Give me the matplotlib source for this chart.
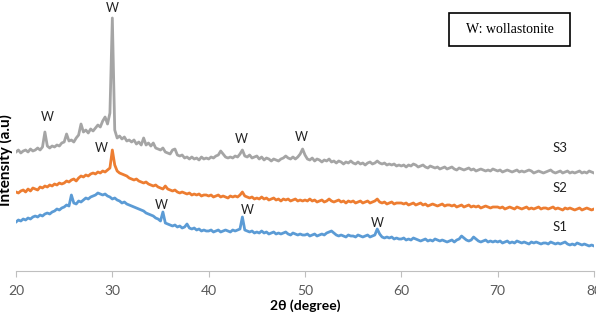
import numpy as np
import matplotlib
matplotlib.use('Agg')
import matplotlib.pyplot as plt
from matplotlib.patches import Rectangle

plt.rcParams['font.family'] = ['Lato', 'DejaVu Sans']

# scan positions, 2theta in degrees (0.25 step)
two_theta = np.arange(20, 80.001, 0.25)

# intensities (arbitrary units, already offset per sample)
s3 = [119, 121, 118, 120, 121, 119, 122, 120, 121, 123, 121, 124, 139, 125, 123, 125, 124, 126, 125, 128,
      129, 137, 130, 131, 129, 133, 136, 147, 139, 141, 138, 142, 140, 143, 146, 144, 150, 154, 147, 158,
      253, 141, 133, 135, 132, 134, 130, 131, 129, 131, 127, 129, 126, 133, 126, 128, 125, 128, 123, 122,
      121, 123, 119, 118, 117, 121, 122, 116, 115, 116, 113, 114, 112, 114, 112, 113, 111, 114, 112, 113,
      112, 114, 113, 115, 116, 120, 117, 114, 113, 114, 113, 115, 114, 117, 121, 115, 114, 116, 113, 114,
      115, 112, 114, 111, 113, 112, 110, 112, 111, 110, 112, 113, 115, 113, 112, 114, 112, 114, 117, 122,
      116, 112, 111, 113, 110, 112, 111, 109, 111, 110, 112, 109, 110, 108, 110, 109, 107, 109, 108, 110,
      108, 107, 109, 107, 108, 106, 108, 109, 107, 108, 110, 108, 107, 108, 106, 107, 106, 107, 105, 106,
      105, 106, 104, 106, 105, 107, 106, 104, 105, 106, 104, 103, 105, 104, 103, 104, 102, 103, 104, 102,
      103, 104, 102, 101, 103, 102, 101, 102, 103, 101, 102, 100, 101, 102, 101, 100, 101, 100, 102, 101,
      100, 101, 99, 100, 101, 100, 99, 100, 101, 99, 100, 99, 100, 101, 100, 98, 99, 100, 99, 98,
      99, 100, 101, 99, 98, 99, 100, 98, 99, 100, 98, 99, 98, 99, 100, 98, 99, 98, 100, 99,
      98]

s2 = [79, 78, 80, 81, 79, 82, 80, 83, 82, 81, 84, 83, 85, 84, 86, 85, 87, 86, 88, 87,
      88, 90, 89, 91, 92, 90, 93, 95, 94, 96, 95, 97, 98, 97, 99, 98, 100, 99, 101, 103,
      121, 106, 100, 98, 97, 96, 95, 93, 92, 91, 92, 90, 89, 88, 89, 87, 86, 85, 86, 84,
      83, 82, 85, 82, 81, 80, 81, 79, 78, 79, 78, 77, 78, 76, 77, 76, 77, 75, 76, 76,
      75, 76, 74, 75, 76, 74, 75, 74, 73, 75, 74, 75, 74, 76, 79, 75, 74, 73, 74, 72,
      73, 72, 74, 72, 73, 71, 72, 73, 71, 72, 70, 72, 71, 72, 70, 71, 72, 70, 71, 70,
      71, 70, 72, 70, 71, 69, 70, 71, 69, 70, 72, 70, 69, 70, 71, 69, 70, 68, 70, 69,
      70, 68, 69, 70, 68, 69, 70, 68, 69, 70, 72, 69, 68, 69, 67, 68, 69, 67, 68, 68,
      68, 67, 68, 66, 67, 68, 66, 67, 68, 66, 67, 65, 66, 67, 66, 65, 66, 67, 65, 66,
      66, 65, 66, 64, 65, 66, 64, 65, 66, 64, 65, 64, 65, 63, 64, 65, 64, 63, 64, 64,
      64, 63, 64, 62, 63, 64, 63, 62, 64, 63, 62, 63, 64, 62, 63, 62, 63, 64, 62, 63,
      63, 62, 63, 64, 62, 63, 62, 61, 63, 62, 63, 62, 61, 62, 63, 61, 62, 63, 62, 61,
      62]

s1 = [49, 51, 50, 52, 51, 53, 52, 54, 55, 54, 56, 55, 57, 58, 57, 59, 60, 62, 61, 63,
      64, 66, 65, 76, 68, 67, 70, 69, 71, 73, 72, 74, 75, 76, 78, 77, 76, 77, 75, 74,
      72, 73, 71, 70, 68, 69, 67, 66, 65, 64, 63, 62, 61, 60, 58, 57, 56, 55, 53, 52,
      50, 59, 48, 47, 46, 45, 46, 44, 45, 43, 44, 47, 43, 42, 43, 41, 42, 40, 41, 40,
      40, 41, 39, 40, 41, 39, 40, 41, 40, 39, 41, 40, 41, 42, 54, 41, 40, 39, 40, 38,
      39, 38, 40, 38, 39, 37, 38, 39, 37, 38, 37, 38, 39, 37, 36, 38, 37, 36, 37, 36,
      36, 37, 35, 36, 37, 35, 36, 37, 36, 38, 39, 40, 38, 36, 35, 36, 35, 34, 36, 35,
      35, 34, 36, 35, 34, 35, 36, 34, 35, 36, 42, 37, 34, 33, 34, 33, 34, 32, 33, 32,
      32, 33, 31, 32, 31, 33, 32, 31, 30, 31, 32, 30, 31, 30, 32, 31, 30, 31, 30, 29,
      30, 31, 29, 31, 32, 35, 33, 31, 30, 31, 34, 32, 30, 29, 30, 31, 29, 30, 29, 30,
      29, 30, 28, 29, 30, 28, 29, 28, 30, 29, 28, 29, 28, 27, 29, 28, 29, 28, 27, 28,
      28, 27, 29, 28, 27, 28, 27, 28, 29, 27, 26, 27, 26, 28, 27, 26, 27, 26, 25, 26,
      25]

# wollastonite peak labels (2theta, height)
w_x = [29.95, 23.3, 28.9, 35.05, 44.0, 43.36, 49.6, 57.5]
w_y = [263, 154, 123, 66, 61, 132, 134, 48]

# sample names at right end
names = ['S3', 'S2', 'S1']
name_y = [123, 83, 44]

fig = plt.figure(figsize=(5.96, 3.16), dpi=100)
ax = fig.add_axes([16 / 596, 45 / 316, 578 / 596, 271 / 316])

ax.plot(two_theta, s3, color='#a5a5a5', lw=2.0)
ax.plot(two_theta, s2, color='#ed7d31', lw=2.0)
ax.plot(two_theta, s1, color='#5b9bd5', lw=2.0)

for x, y in zip(w_x, w_y):
    ax.text(x, y, 'W', ha='center', va='center', fontsize=9, color='#222222')
for n, y in zip(names, name_y):
    ax.text(76.5, y, n, ha='center', va='center', fontsize=9.5, color='#222222')

ax.set_xlim(20, 80)
ax.set_ylim(0, 271)
ax.set_xticks([20, 30, 40, 50, 60, 70, 80])
ax.set_yticks([])
for s in ['left', 'top', 'right']:
    ax.spines[s].set_visible(False)
ax.spines['bottom'].set_color('#bfbfbf')
ax.tick_params(axis='x', direction='out', length=4, color='#bfbfbf',
               labelsize=10, labelcolor='#595959', pad=6)
ax.set_xlabel('2θ (degree)', fontsize=10, fontweight='bold', labelpad=2)
ax.set_ylabel('Intensity (a.u)', fontsize=11, fontweight='bold')
ax.yaxis.set_label_coords(-0.005, 0.41)

# legend box
fig.add_artist(Rectangle((449 / 596, 270 / 316), 121 / 596, 33 / 316,
                         transform=fig.transFigure, fill=False, ec='black', lw=1.2))
fig.text(509.5 / 596, 286.5 / 316, 'W: wollastonite', ha='center', va='center',
         fontsize=10, family='Liberation Serif')

fig.savefig('out.png', dpi=100)
